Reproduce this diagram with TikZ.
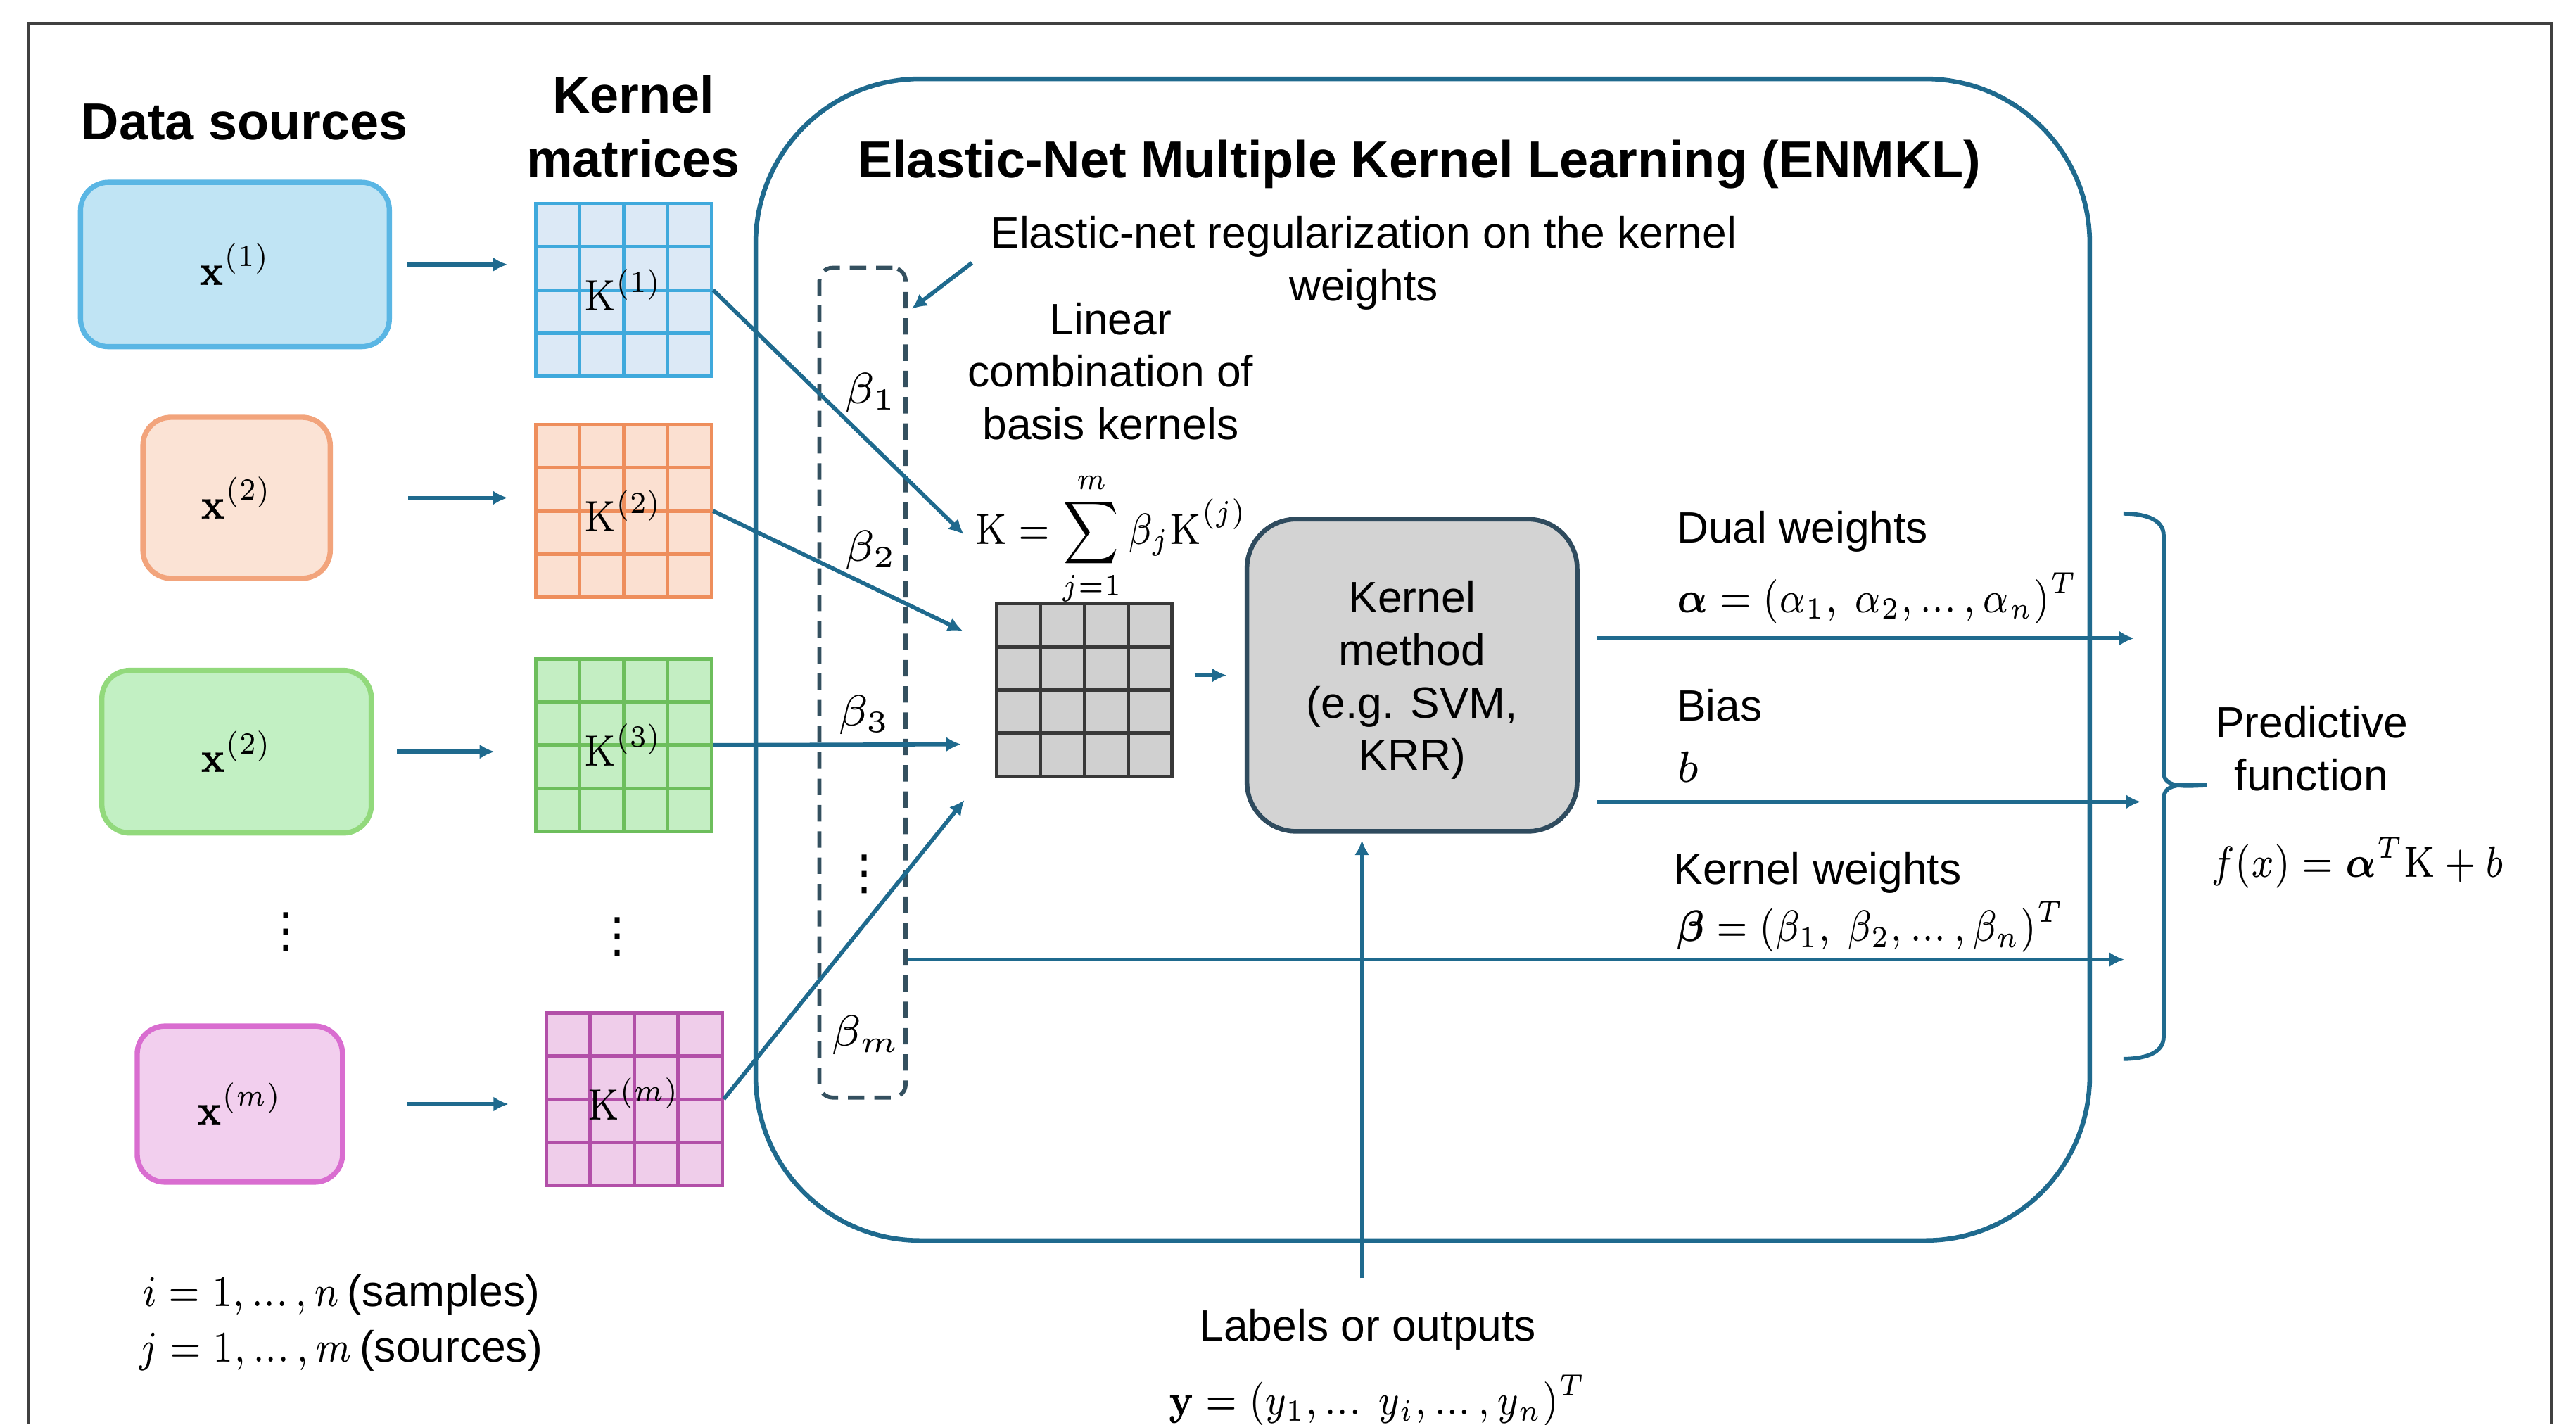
\documentclass[tikz,border=0pt]{standalone}
\usepackage{fix-cm}
\usepackage{graphicx}
\usepackage{amsmath,amssymb}
\usepackage[no-math]{fontspec}
\setmainfont{Liberation Sans}
\newfontfamily\vdotfont{DejaVu Sans}
\usetikzlibrary{arrows.meta,calc}

\definecolor{enblue}{HTML}{1F6A8E}
\definecolor{sbluefill}{HTML}{C0E4F4}
\definecolor{sblueline}{HTML}{5AB6E4}
\definecolor{sorangefill}{HTML}{FBE3D5}
\definecolor{sorangeline}{HTML}{F2A47C}
\definecolor{sgreenfill}{HTML}{C2F0C3}
\definecolor{sgreenline}{HTML}{92D97C}
\definecolor{smagfill}{HTML}{F2CFEE}
\definecolor{smagline}{HTML}{D96DD0}
\definecolor{kbluefill}{HTML}{DCE9F6}
\definecolor{kblueline}{HTML}{3FA9DC}
\definecolor{korangefill}{HTML}{FBE0D1}
\definecolor{korangeline}{HTML}{EE8E5C}
\definecolor{kgreenfill}{HTML}{C4EEC3}
\definecolor{kgreenline}{HTML}{6DBE5C}
\definecolor{kmagfill}{HTML}{EFCDEA}
\definecolor{kmagline}{HTML}{B24FA8}
\definecolor{kgrayfill}{HTML}{D0D0D0}
\definecolor{kgrayline}{HTML}{383838}
\definecolor{methodfill}{HTML}{D3D3D3}
\definecolor{methodline}{HTML}{2F4B5E}
\definecolor{dashline}{HTML}{34505F}

% narrow math, compact dots
\newcommand{\nm}[1]{\scalebox{0.82}[1]{$#1$}}
\newcommand{\lowdots}{\mathinner{...}}

\begin{document}
\begin{tikzpicture}[
        every node/.style={font=\fontsize{7.6}{9.1}\selectfont},
        head/.style={
            font=\fontsize{9}{11.1}\selectfont\bfseries,
            align=center
        },
        pageframe/.style={draw=black!75, line width=0.5pt},
        src/.style={
            rounded corners=0.17cm,
            line width=0.9pt,
            inner sep=0pt
        },
        kgrid/.style={
            draw=#1,
            line width=0.6pt,
            minimum width=1.07cm,
            minimum height=1.05cm,
            inner sep=0pt,
            path picture={
                \foreach \t in {0.25,0.5,0.75} {
                    \draw[#1, line width=0.6pt]
                        ($(path picture bounding box.north west)!\t!(path picture bounding box.north east)$) --
                        ($(path picture bounding box.south west)!\t!(path picture bounding box.south east)$);
                    \draw[#1, line width=0.6pt]
                        ($(path picture bounding box.north west)!\t!(path picture bounding box.south west)$) --
                        ($(path picture bounding box.north east)!\t!(path picture bounding box.south east)$);
                }
            }
        },
        flow/.style={
            draw=enblue,
            line width=0.7pt,
            -{Latex[length=0.9mm,width=0.9mm]}
        },
        outlab/.style={anchor=base west, inner sep=0pt},
        vdot/.style={inner sep=0pt, font=\fontsize{8.3}{10}\selectfont\vdotfont}
    ]
    \useasboundingbox (0,0) rectangle (15.68,-8.67);
    \draw[pageframe] (0.17,-8.67) -- (0.17,-0.14) -- (15.53,-0.14) -- (15.53,-8.67);

    % Headings
    \node[head, anchor=base] (dshead) at (1.49,-0.85) {Data sources};
    \node[head] (kmhead) at (3.855,-0.77) {Kernel\\matrices};

    % Data sources
    \node[src, draw=sblueline, fill=sbluefill, minimum width=1.88cm, minimum height=1.0cm] (x1) at (1.43,-1.61) {\nm{\mathbf{x}^{(1)}}};
    \node[src, draw=sorangeline, fill=sorangefill, minimum width=1.14cm, minimum height=0.98cm] (x2) at (1.44,-3.03) {\nm{\mathbf{x}^{(2)}}};
    \node[src, draw=sgreenline, fill=sgreenfill, minimum width=1.64cm, minimum height=0.99cm] (x3) at (1.44,-4.575) {\nm{\mathbf{x}^{(2)}}};
    \node[src, draw=smagline, fill=smagfill, minimum width=1.25cm, minimum height=0.95cm] (x4) at (1.46,-6.72) {\nm{\mathbf{x}^{(m)}}};
    \node[vdot] (dots1) at (1.74,-5.67) {⋮};

    % Kernel matrices
    \node[kgrid=kblueline, fill=kbluefill] (k1) at (3.795,-1.765) {\nm{\mathrm{K}^{(1)}}};
    \node[kgrid=korangeline, fill=korangefill] (k2) at (3.795,-3.11) {\nm{\mathrm{K}^{(2)}}};
    \node[kgrid=kgreenline, fill=kgreenfill] (k3) at (3.795,-4.535) {\nm{\mathrm{K}^{(3)}}};
    \node[kgrid=kmagline, fill=kmagfill] (k4) at (3.86,-6.69) {\nm{\mathrm{K}^{(m)}}};
    \node[vdot] (dots2) at (3.76,-5.70) {⋮};

    \draw[flow, shorten <=0.09cm, shorten >=0.16cm] (x1.east) -- (x1.east -| k1.west);
    \draw[flow, shorten <=0.46cm, shorten >=0.16cm] (x2.east) -- (x2.east -| k2.west);
    \draw[flow, shorten <=0.14cm, shorten >=0.24cm] (x3.east) -- (x3.east -| k3.west);
    \draw[flow, shorten <=0.38cm, shorten >=0.22cm] (x4.east) -- (x4.east -| k4.west);

    % ENMKL block
    \node[draw=enblue, line width=0.8pt, rounded corners=1cm, minimum width=8.12cm, minimum height=7.07cm] (enmkl) at (8.66,-4.015) {};
    \node[head, anchor=base] (title) at (8.64,-1.08) {Elastic-Net Multiple Kernel Learning (ENMKL)};
    \node[align=center, inner sep=1pt] (reg) at (8.30,-1.60) {Elastic-net regularization on the kernel\\weights};

    % Kernel weights
    \node[draw=dashline, line width=0.7pt, dash pattern=on 1mm off 0.6mm, rounded corners=0.08cm, minimum width=0.525cm, minimum height=5.05cm] (betas) at (5.25,-4.155) {};
    \node (b1) at (5.30,-2.39) {$\beta_1$};
    \node (b2) at (5.30,-3.35) {$\beta_2$};
    \node (b3) at (5.26,-4.35) {$\beta_3$};
    \node[vdot] (bdots) at (5.26,-5.32) {⋮};
    \node (bm) at (5.27,-6.30) {$\beta_m$};

    % Combination
    \node[align=center, inner sep=1pt] (lin) at (6.76,-2.26) {Linear\\combination of\\basis kernels};
    \node[inner sep=1pt] (ksum) at (6.765,-3.28) {\nm{\displaystyle \mathrm{K} = \sum_{j=1}^{m} \beta_j \mathrm{K}^{(j)}}};
    \node[kgrid=kgrayline, fill=kgrayfill] (kc) at (6.60,-4.20) {};
    \node[draw=methodline, fill=methodfill, line width=0.8pt, rounded corners=0.3cm, minimum width=2.01cm, minimum height=1.90cm, align=center] (kmethod) at (8.595,-4.11) {\rule{0pt}{7.2pt}Kernel\\method\\(e.g. SVM,\\KRR)};

    \coordinate (regtip) at (5.55,-1.88);
    \coordinate (in2) at (5.86,-3.84);
    \coordinate (in3) at (5.85,-4.53);
    \coordinate (in4) at (5.87,-4.87);
    \draw[flow] ([xshift=-0.07cm]reg.west) -- (regtip);
    \draw[flow, shorten >=0.04cm] (k1.east) -- (ksum.west);
    \draw[flow] (k2.east) -- (in2);
    \draw[flow] (k3.east) -- (in3);
    \draw[flow] (k4.east) -- (in4);
    \draw[flow, shorten <=0.125cm, shorten >=0.11cm] (kmethod.west -| kc.east) -- (kmethod.west);

    % Outputs
    \node[outlab] (dwlab) at (10.20,-3.306) {Dual weights};
    \node[outlab] (alpha) at (10.20,-3.73) {\nm{\boldsymbol{\alpha} = (\alpha_1,\ \alpha_2, \lowdots, \alpha_n)^T}};
    \node[outlab] (biaslab) at (10.20,-4.386) {Bias};
    \node[outlab] (bval) at (10.20,-4.76) {$b$};
    \node[outlab] (kwlab) at (10.18,-5.38) {Kernel weights};
    \node[outlab] (beta) at (10.20,-5.73) {\nm{\boldsymbol{\beta} = (\beta_1,\ \beta_2, \lowdots, \beta_n)^T}};

    \coordinate (dwend) at (12.99,-3.885);
    \coordinate (bend) at (13.03,-4.88);
    \coordinate (kwend) at (12.93,-5.84);
    \draw[flow, shorten <=0.11cm] (kmethod.east |- dwend) -- (dwend);
    \draw[flow, shorten <=0.11cm] (kmethod.east |- bend) -- (bend);
    \draw[flow] (betas.east |- kwend) -- (kwend);

    % Predictive function
    \draw[enblue, line width=0.7pt] (12.925,-3.126) to[out=0,in=90] (13.17,-3.26) -- (13.17,-4.70)
        to[out=-90,in=180] (13.435,-4.78) to[out=180,in=90] (13.17,-4.86) -- (13.17,-6.31)
        to[out=-90,in=0] (12.925,-6.445);
    \node[align=center] (pred) at (14.07,-4.555) {Predictive\\function};
    \node[outlab] (fx) at (13.45,-5.34) {\nm{f(x) = \boldsymbol{\alpha}^T\mathrm{K} + b}};

    % Labels
    \coordinate (ystart) at (8.29,-7.78);
    \draw[flow, shorten >=0.04cm] (ystart) -- (ystart |- kmethod.south);
    \node[anchor=base] (ylab) at (8.325,-8.16) {Labels or outputs};
    \node[anchor=base] (yvec) at (8.385,-8.61) {\nm{\mathbf{y} = (y_1, \lowdots\ y_i, \lowdots, y_n)^T}};

    % Index ranges
    \node[outlab] (isamp) at (0.86,-7.95) {\nm{i = 1, \lowdots, n}\,(samples)};
    \node[outlab] (jsrc) at (0.84,-8.29) {\nm{j = 1, \lowdots, m}\,(sources)};
\end{tikzpicture}
\end{document}
